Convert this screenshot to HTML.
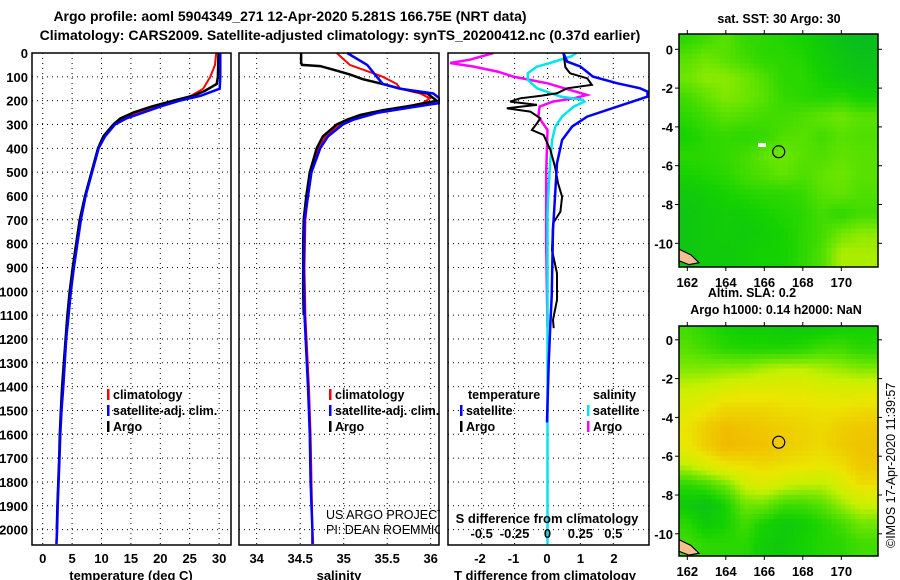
<!DOCTYPE html>
<html><head><meta charset="utf-8"><style>
html,body{margin:0;padding:0;background:#fff;}
svg{display:block;font-family:"Liberation Sans",sans-serif;}
</style></head><body>
<svg id="c" width="900" height="580" xmlns="http://www.w3.org/2000/svg"></svg>
<script>
// ---------- data ----------
const depthT   = [0,100,130,160,180,200,225,250,275,300,350,400,500,600,700,800,900,1000,1100,1200,1400,1500,1600,1700,1800,1900,2000];
const argoTemp = [29.9,29.8,29.6,27.5,25.5,22.2,18.5,15.4,13.2,12.0,10.3,9.4,8.3,7.2,6.3,5.7,5.1,4.6,4.2,3.9,3.3,3.1,2.9,2.8,2.65,2.5,2.4];
const depthC   = [0,50,100,150,180,200,225,250,275,300,350,400,500,600,700,800,900,1000,1100,1200,1400,1500,1600,1700,1800,1900,2000,2060];
const climTemp = [29.5,29.3,28.5,27.3,25.2,22.5,19.2,16.0,13.7,12.2,10.4,9.4,8.3,7.2,6.4,5.8,5.2,4.7,4.3,3.9,3.4,3.1,2.95,2.8,2.65,2.5,2.4,2.3];
const satTemp  = [30.2,30.2,30.2,30.1,26.8,23.3,20.0,17.1,14.2,12.3,10.6,9.5,8.4,7.3,6.5,5.9,5.3,4.8,4.4,4.0,3.5,3.2,3.0,2.85,2.7,2.55,2.45,2.35];
const depthS   = [0,40,50,55,70,90,110,130,150,170,200,220,240,260,280,300,350,400,500,600,700,800,1000,1100];
const argoSal  = [34.51,34.51,34.52,34.73,34.88,35.07,35.22,35.45,35.65,35.96,36.07,35.8,35.45,35.19,35.04,34.92,34.76,34.69,34.61,34.57,34.54,34.535,34.535,34.54];
const depthCS  = [0,50,100,130,150,170,190,210,230,250,280,300,350,400,500,700,900,1100,1400,1600,1800,2000,2060];
const climSal  = [34.92,35.07,35.45,35.61,35.65,35.88,35.99,35.91,35.65,35.3,35.07,34.96,34.79,34.71,34.62,34.56,34.55,34.56,34.60,34.62,34.63,34.64,34.65];
const satSal   = [35.04,35.27,35.38,35.45,35.65,36.03,36.1,36.1,35.75,35.4,35.11,34.99,34.82,34.73,34.63,34.55,34.54,34.55,34.59,34.61,34.62,34.64,34.64];
const depthD   = [0,36,57,99,127,148,162,183,197,225,267,309,365,463,603,743,1022,1134,1300,1550];
const satTdiff = [0.49,0.6,1.0,1.37,2.1,2.78,3.0,3.0,2.7,2.1,1.2,0.75,0.45,0.3,0.24,0.18,0.14,0.1,0.05,0.0];
const depthAD  = [0,60,85,106,134,148,169,180,190,204,218,232,246,274,295,323,344,407,477,547,603,666,715,827,925,1036,1120,1155];
const argoTdiff= [0.49,0.55,0.69,1.2,1.34,0.6,0.3,-0.2,-0.8,-1.1,-0.3,-1.2,-0.5,-0.2,-0.3,-0.45,-0.1,0.1,0.24,0.33,0.45,0.4,0.18,0.15,0.3,0.3,0.18,0.2];
const depthSD  = [0,14,42,57,85,113,148,183,197,204,225,267,309,365,463,603,673,1000,1500,2060];
const satSdiff = [0.22,0.18,0.02,-0.08,-0.15,-0.15,-0.08,0.1,0.27,0.28,0.2,0.11,0.06,0.035,0.02,0.005,0,0,0,0];
const depthASD = [0,28,42,57,78,99,127,155,176,190,204,225,267,323,500,800,1150];
const argoSdiff= [-0.41,-0.59,-0.74,-0.56,-0.38,-0.26,0,0.17,0.3,0.2,0.04,-0.06,-0.07,0,-0.01,-0.01,0];
const depthTicks = [0,100,200,300,400,500,600,700,800,900,1000,1100,1200,1300,1400,1500,1600,1700,1800,1900,2000];
const tempTicks = [0,5,10,15,20,25,30];
const salTicks = [34,34.5,35,35.5,36];
const salTickLabels = ["34","34.5","35","35.5","36"];
const tdTicks = [-2,-1,0,1,2];
const sdTicks = [-0.5,-0.25,0,0.25,0.5];
const sdTickLabels = ["-0.5","-0.25","0","0.25","0.5"];
const latTicks = [0,-2,-4,-6,-8,-10];
const lonTicks = [162,164,166,168,170];
// map fields (rows: lat 0.5 .. -10.5 step -1 ; cols: lon 162..171)
const sstGrid = [
 [0.30,0.35,0.40,0.32,0.30,0.28,0.25,0.20,0.15,0.12],
 [0.40,0.45,0.40,0.35,0.30,0.30,0.28,0.22,0.18,0.15],
 [0.45,0.50,0.50,0.45,0.38,0.30,0.30,0.25,0.20,0.18],
 [0.35,0.42,0.48,0.45,0.40,0.32,0.30,0.28,0.30,0.25],
 [0.30,0.35,0.40,0.38,0.35,0.35,0.38,0.42,0.45,0.40],
 [0.25,0.30,0.32,0.30,0.32,0.38,0.40,0.35,0.40,0.38],
 [0.30,0.30,0.32,0.35,0.42,0.45,0.40,0.38,0.42,0.40],
 [0.25,0.28,0.30,0.35,0.38,0.42,0.38,0.42,0.45,0.40],
 [0.20,0.22,0.25,0.28,0.30,0.30,0.32,0.40,0.42,0.38],
 [0.18,0.20,0.22,0.22,0.25,0.28,0.30,0.35,0.30,0.35],
 [0.18,0.20,0.22,0.20,0.22,0.25,0.30,0.35,0.45,0.50],
 [0.18,0.20,0.20,0.22,0.25,0.25,0.30,0.38,0.55,0.55]
];
const slaGrid = [
 [0.35,0.30,0.25,0.22,0.22,0.20,0.20,0.22,0.25,0.25],
 [0.40,0.35,0.30,0.28,0.28,0.28,0.30,0.35,0.35,0.30],
 [0.48,0.48,0.50,0.50,0.55,0.58,0.58,0.55,0.52,0.48],
 [0.60,0.62,0.66,0.70,0.70,0.70,0.70,0.66,0.66,0.66],
 [0.68,0.74,0.80,0.80,0.80,0.78,0.78,0.76,0.76,0.78],
 [0.76,0.84,0.90,0.88,0.86,0.84,0.82,0.80,0.84,0.86],
 [0.74,0.84,0.92,0.90,0.88,0.85,0.82,0.80,0.85,0.88],
 [0.58,0.68,0.75,0.78,0.80,0.78,0.76,0.74,0.78,0.86],
 [0.30,0.35,0.45,0.62,0.68,0.62,0.58,0.58,0.66,0.78],
 [0.20,0.15,0.25,0.45,0.45,0.35,0.35,0.40,0.52,0.62],
 [0.30,0.20,0.25,0.35,0.25,0.20,0.22,0.28,0.35,0.45],
 [0.35,0.30,0.30,0.30,0.22,0.20,0.25,0.28,0.30,0.35]
];
const floatLon = 166.75, floatLat = -5.28;

// ---------- helpers ----------
const svg = document.getElementById('c');
const NS = 'http://www.w3.org/2000/svg';
function mk(tag, attrs, parent){const e=document.createElementNS(NS,tag);for(const k in attrs)e.setAttribute(k,attrs[k]);(parent||svg).appendChild(e);return e;}
function txt(x,y,s,opts){const e=mk('text',Object.assign({x:x,y:y,'font-size':13,'font-weight':'bold',fill:'#000'},opts||{}));e.textContent=s;return e;}
const yTop=53, pxPerM=0.2383, yBot=545;
const yD = d => yTop + d*pxPerM;
function panel(x0,x1,name){
  const g=mk('g',{});
  
  
  return g;
}
function frame(g,x0,x1,y0,y1){mk('rect',{x:x0,y:y0,width:x1-x0,height:y1-y0,fill:'none',stroke:'#000','stroke-width':1.5},g);}
function hgrid(g,x0,x1){depthTicks.forEach(d=>{mk('line',{x1:x0,x2:x1,y1:yD(d),y2:yD(d),stroke:'#000','stroke-width':1,'stroke-dasharray':'1,4'},g);});}
function vgrid(g,xs){xs.forEach(x=>{mk('line',{x1:x,x2:x,y1:yTop,y2:yBot,stroke:'#000','stroke-width':1,'stroke-dasharray':'1,4'},g);});}
function line(g,xs,ds,fx,color,w,name){
  const pts=xs.map((v,i)=>fx(v).toFixed(1)+','+yD(ds[i]).toFixed(1)).join(' ');
  const p=mk('polyline',{points:pts,fill:'none',stroke:color,'stroke-width':w||2},g);
  
  
  return p;
}

// titles
txt(290,21,'Argo profile: aoml 5904349_271 12-Apr-2020 5.281S 166.75E (NRT data)',{'font-size':14,'text-anchor':'middle'});
txt(340,40,'Climatology: CARS2009. Satellite-adjusted climatology: synTS_20200412.nc (0.37d earlier)',{'font-size':14,'text-anchor':'middle'});

// depth labels
depthTicks.forEach(d=>{const t=txt(28,yD(d)+5,String(d),{'text-anchor':'end'});});

// ---- panel 1 temperature ----
const fT = t => 42.7 + 5.88*t;
const g1 = panel(32,231,'temperature-panel');
hgrid(g1,32,231); vgrid(g1,tempTicks.map(fT));
line(g1,climTemp,depthC,fT,'#ff0000',2,'climatology-temp-line');
line(g1,argoTemp,depthT,fT,'#000000',2.5,'argo-temp-line');
line(g1,satTemp,depthC,fT,'#0000ff',2.5,'satellite-temp-line');
frame(g1,32,231,yTop,yBot);
tempTicks.forEach(t=>{txt(fT(t),563,String(t),{'text-anchor':'middle'});});
txt(131,580,'temperature (deg C)',{'text-anchor':'middle'});
function legend(g,x,y,color,label,name){
  mk('rect',{x:x,y:y-10,width:2.5,height:11,fill:color},g);
  const t=txt(x+6,y,label,{'font-size':12.5});g.appendChild(t);
  
}
legend(g1,107,399,'#ff0000','climatology','legend-climatology');
legend(g1,107,415,'#0000ff','satellite-adj. clim.','legend-satellite-adj');
legend(g1,107,431,'#000000','Argo','legend-argo');

// ---- panel 2 salinity ----
const fS = s => 256.7 + 87*(s-34);
const g2 = panel(239,439,'salinity-panel');
hgrid(g2,239,439); vgrid(g2,salTicks.map(fS));
line(g2,climSal,depthCS,fS,'#ff0000',2,'climatology-sal-line');
line(g2,argoSal,depthS,fS,'#000000',2.5,'argo-sal-line');
line(g2,satSal,depthCS,fS,'#0000ff',2.5,'satellite-sal-line');
frame(g2,239,439,yTop,yBot);
salTicks.forEach((s,i)=>{txt(fS(s),563,salTickLabels[i],{'text-anchor':'middle'});});
txt(339,580,'salinity',{'text-anchor':'middle'});
legend(g2,329,399,'#ff0000','climatology','legend-climatology-2');
legend(g2,329,415,'#0000ff','satellite-adj. clim.','legend-satellite-adj-2');
legend(g2,329,431,'#000000','Argo','legend-argo-2');
txt(326,519,'US ARGO PROJECT',{'font-weight':'normal','font-size':12.5});
txt(326,534,'PI: DEAN ROEMMICH',{'font-weight':'normal','font-size':12.5});

// ---- panel 3 differences ----
const fTD = v => 547 + 33.5*v;
const fSD = v => 547.5 + 131.6*v;
mk('rect',{x:440,y:yTop,width:209,height:yBot-yTop+1,fill:'#fff'});
const g3 = panel(448,649,'difference-panel');
const clip = mk('clipPath',{id:'cp3'},g3); mk('rect',{x:448,y:yTop,width:201,height:yBot-yTop},clip);
hgrid(g3,448,649); vgrid(g3,sdTicks.map(fSD));
const gi = mk('g',{'clip-path':'url(#cp3)'},g3);
line(gi,argoSdiff,depthASD,fSD,'#ff00ff',2.5,'argo-sal-diff-line');
line(gi,satSdiff,depthSD,fSD,'#00e5ee',2.5,'satellite-sal-diff-line');
line(gi,argoTdiff,depthAD,fTD,'#000000',2,'argo-temp-diff-line');
line(gi,satTdiff,depthD,fTD,'#0000ff',2.5,'satellite-temp-diff-line');
frame(g3,448,649,yTop,yBot);
tdTicks.forEach(v=>{txt(fTD(v),563,String(v),{'text-anchor':'middle'});});
sdTicks.forEach((v,i)=>{txt(fSD(v),538,sdTickLabels[i],{'text-anchor':'middle'});});
txt(547,523,'S difference from climatology',{'text-anchor':'middle'});
txt(545,580,'T difference from climatology',{'text-anchor':'middle'});
txt(468,399,'temperature',{'font-size':12.5});
txt(593,399,'salinity',{'font-size':12.5});
legend(g3,460,415,'#0000ff','satellite','legend-temp-satellite');
legend(g3,460,431,'#000000','Argo','legend-temp-argo');
legend(g3,587,415,'#00e5ee','satellite','legend-sal-satellite');
legend(g3,587,431,'#ff00ff','Argo','legend-sal-argo');

// ---- maps ----
function cmap(v){
  const st=[[0,[0,170,60]],[0.25,[20,210,0]],[0.45,[110,230,0]],[0.6,[200,240,0]],[0.75,[235,230,0]],[0.9,[240,190,0]],[1,[240,160,0]]];
  for(let i=1;i<st.length;i++){if(v<=st[i][0]){const a=st[i-1],b=st[i],f=(v-a[0])/(b[0]-a[0]);return 'rgb('+a[1].map((c,k)=>Math.round(c+(b[1][k]-c)*f)).join(',')+')';}}
  return 'rgb(240,160,0)';
}
function sample(grid,r,c){
  const R=grid.length-1,C=grid[0].length-1;
  r=Math.max(0,Math.min(R,r));c=Math.max(0,Math.min(C,c));
  const r0=Math.floor(r),c0=Math.floor(c),r1=Math.min(R,r0+1),c1=Math.min(C,c0+1),fr=r-r0,fc=c-c0;
  return (grid[r0][c0]*(1-fc)+grid[r0][c1]*fc)*(1-fr)+(grid[r1][c0]*(1-fc)+grid[r1][c1]*fc)*fr;
}
function map(x0,x1,y0,y1,lat0y,name,grid){
  const g=mk('g',{});
  
  
  const pxLat=19.4, pxLon=19.25;
  const fLon = l => 687.3 + (l-162)*pxLon;
  const fLat = l => lat0y - l*pxLat;
  const cp=mk('clipPath',{id:'cp'+name},g); mk('rect',{x:x0,y:y0,width:x1-x0,height:y1-y0},cp);
  const gc=mk('g',{'clip-path':'url(#cp'+name+')'},g);
  const step=0.25;
  for(let lat=1.0;lat>-11.6;lat-=step){
    for(let lon=161.5;lon<172;lon+=step){
      const r=(0.5-(lat-step/2)), c=(lon+step/2-162);
      const v=sample(grid,r,c);
      const cell=mk('rect',{x:fLon(lon)-0.3,y:fLat(lat)-0.3,width:pxLon*step+0.6,height:pxLat*step+0.6,fill:cmap(v)},gc);
      
      
    }
  }
  mk('path',{d:`M${x0} ${fLat(-10.3)} L${x0+12} ${fLat(-10.6)} L${x0+20} ${fLat(-11.0)} L${x0+10} ${fLat(-11.1)} L${x0} ${fLat(-10.9)} Z`,fill:'#f4c090',stroke:'#000','stroke-width':1.2},gc);
  mk('rect',{x:x0,y:y0,width:x1-x0,height:y1-y0,fill:'none',stroke:'#000','stroke-width':1.5},g);
  const circ=mk('circle',{cx:fLon(floatLon),cy:fLat(floatLat),r:6,fill:'none',stroke:'#000','stroke-width':1.2},g);
  
  latTicks.forEach(l=>{mk('line',{x1:x0-4,x2:x0,y1:fLat(l),y2:fLat(l),stroke:'#000'},g);mk('line',{x1:x1,x2:x1+4,y1:fLat(l),y2:fLat(l),stroke:'#000'},g);
    txt(x0-6,fLat(l)+5,String(l),{'text-anchor':'end'});});
  lonTicks.forEach(l=>{mk('line',{x1:fLon(l),x2:fLon(l),y1:y0-4,y2:y0,stroke:'#000'},g);mk('line',{x1:fLon(l),x2:fLon(l),y1:y1,y2:y1+4,stroke:'#000'},g);
    txt(fLon(l),y1+20,String(l),{'text-anchor':'middle'});});
  return g;
}
txt(779,23,'sat. SST: 30 Argo: 30',{'font-size':12.5,'text-anchor':'middle'});
map(679,878,34,267,49.3,'sst-map',sstGrid);
mk('rect',{x:758,y:143,width:8,height:4,fill:'#fff'});
txt(752,297,'Altim. SLA: 0.2',{'font-size':12.5,'text-anchor':'middle'});
txt(776,314,'Argo h1000: 0.14 h2000: NaN',{'font-size':12.5,'text-anchor':'middle'});
map(679,878,326,556,339.8,'sla-map',slaGrid);
const cr=txt(0,0,'©IMOS 17-Apr-2020 11:39:57',{'font-weight':'normal','font-size':12.5,transform:'translate(895,548) rotate(-90)'});

</script>
</body></html>
